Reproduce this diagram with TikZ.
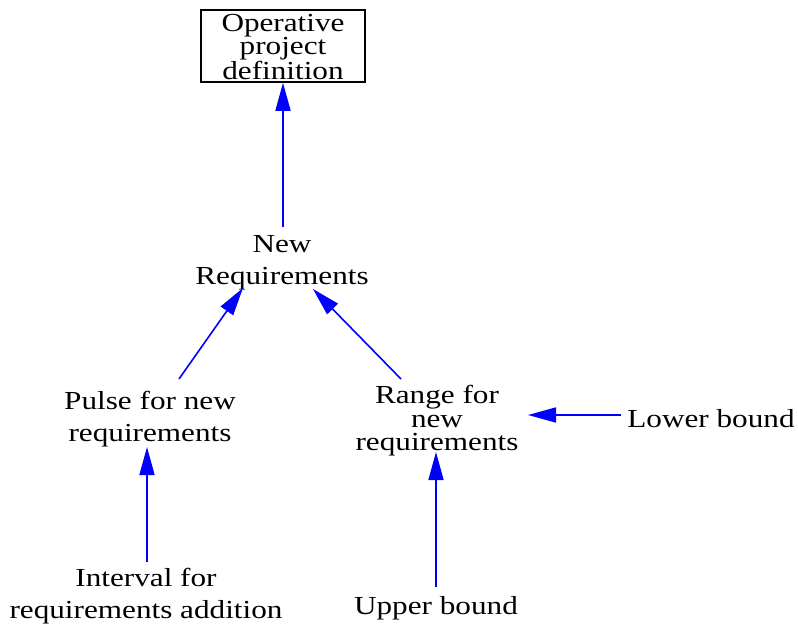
\documentclass[tikz,border=0pt]{standalone}
\usepackage{fontspec}
\setmainfont{Liberation Serif}[FakeStretch=1.2]
\usetikzlibrary{arrows.meta,calc}
\begin{document}
\begin{tikzpicture}[x=1pt,y=-1pt,
  lbl/.style={inner sep=0pt,align=center,font=\fontsize{26}{32}\selectfont},
  lbltight/.style={inner sep=0pt,align=center,font=\fontsize{26}{23.5}\selectfont},
  lblbox/.style={inner sep=0pt,align=center,font=\fontsize{26}{19.5}\selectfont},
  boxnode/.style={draw=black,line width=1.5pt,minimum width=164pt,minimum height=72pt,inner sep=0pt},
  edge/.style={draw=blue,line width=1.6pt,-{Triangle[length=28pt,width=15pt]}}]
\useasboundingbox (0,0) rectangle (798,626);
\node[boxnode] (Box) at (283,46) {};
\node[lblbox] (BoxText) at (283,47) {Operative\\project\\definition};
\node[lbl] (NewReq) at (282,263) {New\\Requirements};
\node[lbl] (Pulse) at (150,419) {Pulse for new\\requirements};
\node[lbltight] (Range) at (437,421) {Range for\\new\\requirements};
\node[lbl] (Lower) at (711,419) {Lower bound};
\node[lbl] (Interval) at (146,596) {Interval for\\requirements addition};
\node[lbl] (Upper) at (436,608) {Upper bound};
\draw[edge] ($(NewReq.center)+(1,-36)$) -- (Box.south);
\draw[edge] ($(Pulse.center)+(29,-40)$) -- ($(NewReq.center)+(-39,25)$);
\draw[edge] ($(Range.center)+(-36,-42)$) -- ($(NewReq.center)+(31,26)$);
\draw[edge] ($(Interval.center)+(1,-34)$) -- ($(Pulse.center)+(-3,28)$);
\draw[edge] ($(Upper.center)+(0,-21)$) -- ($(Range.center)+(-1,31)$);
\draw[edge] ($(Lower.center)+(-90,-4)$) -- ($(Range.center)+(91,-6)$);
\end{tikzpicture}
\end{document}
